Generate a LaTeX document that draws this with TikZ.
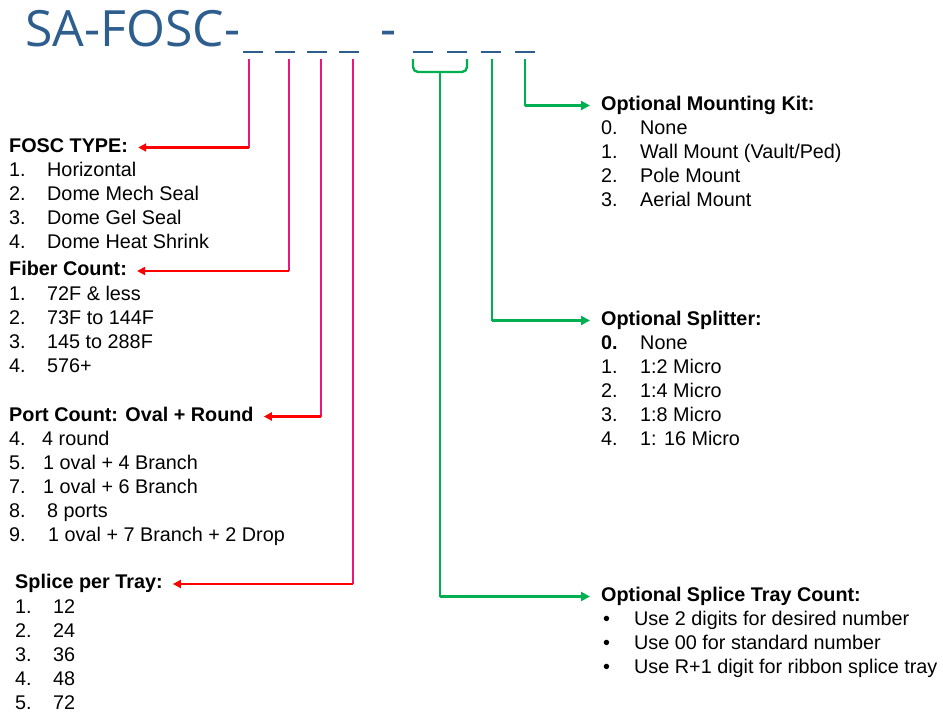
\documentclass[tikz,border=0pt]{standalone}
\usepackage{fontspec}
\setmainfont{Liberation Sans}
\newfontfamily\titlefont{Open Sans}
\usetikzlibrary{arrows.meta,positioning}
\definecolor{codeblue}{RGB}{46,94,142}
\definecolor{leadpink}{RGB}{232,24,122}
\definecolor{arrowred}{RGB}{255,0,0}
\definecolor{optgreen}{RGB}{0,176,80}

\tikzset{
  head/.style={font=\fontsize{19.8}{24}\selectfont\bfseries, inner sep=0pt, anchor=west, text height=16.8pt, text depth=7.2pt},
  items/.style={font=\fontsize{19.8}{24}\selectfont, inner sep=0pt, below=0pt of #1.south west, anchor=north west},
  magline/.style={leadpink, line width=2.4pt},
  redarrow/.style={arrowred, line width=2.4pt, -{Triangle[length=8pt,width=8pt]}, shorten >=10pt},
  greenline/.style={optgreen, line width=2.4pt, line join=round},
  greenarrow/.style={optgreen, line width=2.4pt, -{Triangle[length=9pt,width=9pt]}, shorten >=11pt}
}

\begin{document}
\begin{tikzpicture}[x=1pt, y=-1pt]
    \useasboundingbox (0,0) rectangle (943,715);
    % part number
    \node[font=\titlefont\fontsize{50}{50}\selectfont, text=codeblue, inner sep=0pt, anchor=base west] (code) at (25,46) {SA-FOSC-};
    \node[font=\titlefont\fontsize{50}{50}\selectfont, text=codeblue, inner sep=0pt, anchor=base west] (sep) at (380,46) {-};
    \foreach \dx in {243,275,307,339,413,447,481,515}
        \draw[codeblue, line width=2pt] (\dx,52) -- ++(20,0);
    \coordinate (p1) at (249,59);
    \coordinate (p2) at (289,59);
    \coordinate (p3) at (321,59);
    \coordinate (p4) at (353,59);
    \coordinate (tray) at (440,72);
    \coordinate (split) at (492,59);
    \coordinate (mount) at (525,59);

    % left side
    \node[head] (fosc) at (9,147.5) {FOSC TYPE:};
    \node[items=fosc] (fosclist) {\begin{tabular}{@{}p{38pt}@{}l@{}}
        1.&Horizontal\\ 2.&Dome Mech Seal\\ 3.&Dome Gel Seal\\ 4.&Dome Heat Shrink\end{tabular}};
    \node[head] (fiber) at (9,271) {Fiber Count:};
    \node[items=fiber] (fiberlist) {\begin{tabular}{@{}p{38pt}@{}l@{}}
        1.&72F \& less\\ 2.&73F to 144F\\ 3.&145 to 288F\\ 4.&576+\end{tabular}};
    \node[head] (port) at (9,416.5) {Port Count: Oval + Round};
    \node[items=port] (portlist) {\begin{tabular}{@{}p{33pt}@{}l@{}}
        4.&4 round\\ 5.&\hspace{1pt}1 oval + 4 Branch\\ 7.&\hspace{1pt}1 oval + 6 Branch\\
        8.&\hspace{5pt}8 ports\\ 9.&\hspace{6pt}1 oval + 7 Branch + 2 Drop\end{tabular}};
    \node[head] (splice) at (15,584) {Splice per Tray:};
    \node[items=splice] (splicelist) {\begin{tabular}{@{}p{38pt}@{}l@{}}
        1.&12\\ 2.&24\\ 3.&36\\ 4.&48\\ 5.&72\end{tabular}};

    % right side
    \node[head] (mountkit) at (601,105.5) {Optional Mounting Kit:};
    \node[items=mountkit] (mountlist) {\begin{tabular}{@{}p{39pt}@{}l@{}}
        0.&None\\ 1.&Wall Mount (Vault/Ped)\\ 2.&Pole Mount\\ 3.&Aerial Mount\end{tabular}};
    \node[head] (splitter) at (601,320.5) {Optional Splitter:};
    \node[items=splitter] (splitlist) {\begin{tabular}{@{}p{39pt}@{}l@{}}
        \textbf{0.}&None\\ 1.&1:2 Micro\\ 2.&1:4 Micro\\ 3.&1:8 Micro\\ 4.&1: 16 Micro\end{tabular}};
    \node[head] (traycount) at (601,596.5) {Optional Splice Tray Count:};
    \node[items=traycount] (traylist) {\begin{tabular}{@{}p{33pt}@{}l@{}}
        \hspace{2pt}\textbullet&Use 2 digits for desired number\\ \hspace{2pt}\textbullet&Use 00 for standard number\\
        \hspace{2pt}\textbullet&Use R+1 digit for ribbon splice tray\end{tabular}};

    % leaders to the left
    \draw[magline] (p1) -- (p1 |- fosc.east);
    \draw[redarrow] (p1 |- fosc.east) -- (fosc.east);
    \draw[magline] (p2) -- (p2 |- fiber.east);
    \draw[redarrow] (p2 |- fiber.east) -- (fiber.east);
    \draw[magline] (p3) -- (p3 |- port.east);
    \draw[redarrow] (p3 |- port.east) -- (port.east);
    \draw[magline] (p4) -- (p4 |- splice.east);
    \draw[redarrow] (p4 |- splice.east) -- (splice.east);

    % leaders to the right
    \draw[greenline, rounded corners=5pt] (413,59) -- (413,72) -- (467,72) -- (467,59);
    \draw[greenline] (tray) -- (tray |- traycount.west);
    \draw[greenarrow] (tray |- traycount.west) -- (traycount.west);
    \draw[greenline] (split) -- (split |- splitter.west);
    \draw[greenarrow] (split |- splitter.west) -- (splitter.west);
    \draw[greenline] (mount) -- (mount |- mountkit.west);
    \draw[greenarrow] (mount |- mountkit.west) -- (mountkit.west);
\end{tikzpicture}
\end{document}
